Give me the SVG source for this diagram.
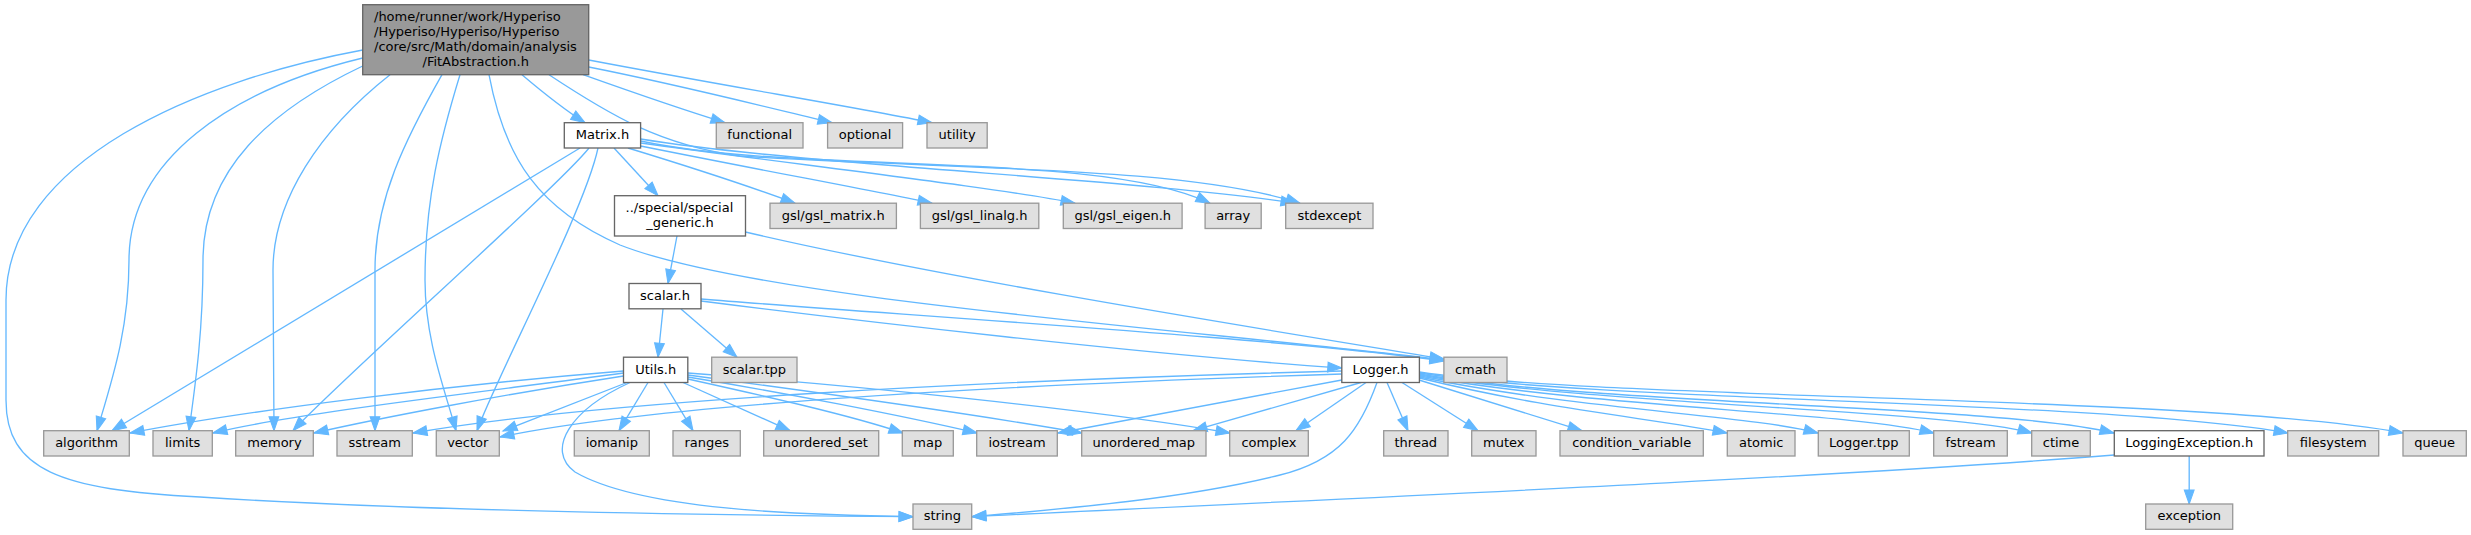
<svg xmlns="http://www.w3.org/2000/svg" width="2471" height="535" viewBox="0 0 2471 535">
<style>
.g rect{fill:#e0e0e0;stroke:#999999;stroke-width:1.33}
.w rect{fill:#ffffff;stroke:#666666;stroke-width:1.33}
.m rect{fill:#999999;stroke:#666666;stroke-width:1.33}
text{font-family:"DejaVu Sans","Liberation Sans",sans-serif;font-size:13px;fill:#000000}
.c{text-anchor:middle}
#edges path{fill:none;stroke:#63b8ff;stroke-width:1.33;marker-end:url(#ah)}
</style>
<defs>
<marker id="ah" markerUnits="userSpaceOnUse" markerWidth="14" markerHeight="10" refX="13.3" refY="4.67" orient="auto" viewBox="0 0 13.3 9.33" overflow="visible">
<path d="M0,0 L13.3,4.67 L0,9.33 z" fill="#63b8ff" stroke="#63b8ff" stroke-width="1"/>
</marker>
</defs>
<rect width="2471" height="535" fill="#ffffff"/>
<g id="edges">
<path d="M522,74.7 C540,90 562,108 585,122.7"/>
<path d="M583,74.7 C640,95 690,112 725,122.7"/>
<path d="M588.7,67 C680,85 770,108 832,122.7"/>
<path d="M588.7,60 C720,85 860,108 932,122.7"/>
<path d="M549,74.7 C610,115 660,145 740,156 C950,170 1180,165 1300,203.2"/>
<path d="M489,74.7 C505,160 540,210 620,245 C760,300 1200,330 1444,360"/>
<path d="M442,74.7 C405,140 375,200 375,270 L375,430.7"/>
<path d="M460,74.7 C440,140 425,200 425,280 C425,340 445,390 456,430.7"/>
<path d="M390,74.7 C320,130 273,200 273,270 L274,430.7"/>
<path d="M362.7,66 C270,110 203,170 203,260 C203,330 196,380 189,430.7"/>
<path d="M362.7,58 C230,90 129,160 129,260 C129,330 112,380 97,430.7"/>
<path d="M362.7,50 C200,80 6,160 6,300 L6,400 C6,470 60,490 200,497 C400,510 700,515 913,516.7"/>
<path d="M580,148 L112,430.7"/>
<path d="M589,148 C560,185 340,380 293,430.7"/>
<path d="M598,148 C585,210 495,380 477,430.7"/>
<path d="M614,148 L658,195.7"/>
<path d="M628,148 C700,170 765,192 795,203.2"/>
<path d="M640.6,146 C760,170 880,192 932,203.2"/>
<path d="M640.6,143 C800,165 1000,188 1075,203.2"/>
<path d="M640.6,141 C800,175 1100,150 1210,203.2"/>
<path d="M640.6,139 C800,165 1150,180 1295,203.2"/>
<path d="M677,236 L668,283.5"/>
<path d="M745.4,232 C950,280 1300,335 1444,359"/>
<path d="M663,309 L658,357.2"/>
<path d="M681,309 L737,357.2"/>
<path d="M701,301 C850,320 1150,355 1341.8,368"/>
<path d="M701,299 C900,315 1300,340 1444,361"/>
<path d="M623.5,371 C450,385 250,410 130,433"/>
<path d="M623.5,373 C500,390 300,412 213,433"/>
<path d="M623.5,376 C500,395 380,418 314,433"/>
<path d="M627,382.5 L503,431"/>
<path d="M630,382.5 C570,410 545,450 575,472 C640,510 800,515 913,516.7"/>
<path d="M648,382.5 L619,430.7"/>
<path d="M664,382.5 L693,430.7"/>
<path d="M683,382.5 L790,430.7"/>
<path d="M687.8,379 C760,395 850,415 903,433"/>
<path d="M687.8,377 C780,392 900,415 977,433"/>
<path d="M687.8,375 C800,390 980,415 1082,433"/>
<path d="M687.8,373 C850,385 1100,410 1230,433"/>
<path d="M1341.8,371 C1000,380 600,400 413,433"/>
<path d="M1341.8,374 C1000,385 650,405 500,437"/>
<path d="M1341.8,380 L1058,433"/>
<path d="M1361,382.5 L1193,430.7"/>
<path d="M1366,382.5 L1296,430.7"/>
<path d="M1377,382.5 C1360,430 1340,460 1280,475 C1180,500 1050,510 972,516.7"/>
<path d="M1387,382.5 L1408,430.7"/>
<path d="M1402,382.5 L1478,430.7"/>
<path d="M1419,380 L1582,430.7"/>
<path d="M1419.4,378 C1550,410 1650,418 1727,433"/>
<path d="M1419.4,377 C1580,410 1750,415 1818,433"/>
<path d="M1419.4,376 C1600,408 1850,412 1934,433"/>
<path d="M1419.4,375 C1600,405 1950,410 2032,433"/>
<path d="M1419.4,374 C1600,405 2000,405 2114,433"/>
<path d="M1419.4,373 C1600,402 2100,400 2288,433"/>
<path d="M1419.4,372 C1600,400 2200,395 2403,433"/>
<path d="M2114.3,455 C1800,480 1200,505 972,516.7"/>
<path d="M2189.2,456 L2189.2,504"/>
</g>
<g id="node_main" class="m"><rect x="362.7" y="4.7" width="226" height="70"/>
<text x="374" y="20.7">/home/runner/work/Hyperiso</text>
<text x="374" y="35.7">/Hyperiso/Hyperiso/Hyperiso</text>
<text x="374" y="50.7">/core/src/Math/domain/analysis</text>
<text class="c" x="475.7" y="65.7">/FitAbstraction.h</text></g>
<g id="node_matrix" class="w"><rect x="564.3" y="122.7" width="76.3" height="25.3"/><text class="c" x="602.5" y="139">Matrix.h</text></g>
<g id="node_functional" class="g"><rect x="716.3" y="122.7" width="86.7" height="25.3"/><text class="c" x="759.7" y="139">functional</text></g>
<g id="node_optional" class="g"><rect x="827.6" y="122.7" width="75" height="25.3"/><text class="c" x="865.1" y="139">optional</text></g>
<g id="node_utility" class="g"><rect x="927" y="122.7" width="60.2" height="25.3"/><text class="c" x="957.1" y="139">utility</text></g>
<g id="node_special" class="w"><rect x="614.5" y="195.7" width="131" height="40.3"/>
<text x="625.5" y="212">../special/special</text>
<text class="c" x="680" y="226.5">_generic.h</text></g>
<g id="node_gsl_matrix" class="g"><rect x="770" y="203.2" width="126.4" height="25.3"/><text class="c" x="833.2" y="219.5">gsl/gsl_matrix.h</text></g>
<g id="node_gsl_linalg" class="g"><rect x="920.4" y="203.2" width="118.4" height="25.3"/><text class="c" x="979.6" y="219.5">gsl/gsl_linalg.h</text></g>
<g id="node_gsl_eigen" class="g"><rect x="1063.3" y="203.2" width="118.8" height="25.3"/><text class="c" x="1122.7" y="219.5">gsl/gsl_eigen.h</text></g>
<g id="node_array" class="g"><rect x="1205.1" y="203.2" width="56.1" height="25.3"/><text class="c" x="1233.2" y="219.5">array</text></g>
<g id="node_stdexcept" class="g"><rect x="1285.7" y="203.2" width="87.3" height="25.3"/><text class="c" x="1329.4" y="219.5">stdexcept</text></g>
<g id="node_scalar_h" class="w"><rect x="629" y="283.5" width="72" height="25.3"/><text class="c" x="665" y="299.9">scalar.h</text></g>
<g id="node_utils" class="w"><rect x="623.5" y="357.2" width="64.3" height="25.3"/><text class="c" x="655.7" y="373.5">Utils.h</text></g>
<g id="node_scalar_tpp" class="g"><rect x="711.7" y="357.2" width="85.3" height="25.3"/><text class="c" x="754.4" y="373.5">scalar.tpp</text></g>
<g id="node_logger" class="w"><rect x="1341.8" y="357.2" width="77.6" height="25.3"/><text class="c" x="1380.6" y="373.5">Logger.h</text></g>
<g id="node_cmath" class="g"><rect x="1443.9" y="357.2" width="63.1" height="25.3"/><text class="c" x="1475.5" y="373.5">cmath</text></g>
<g id="node_algorithm" class="g"><rect x="43.7" y="430.7" width="85.6" height="25.3"/><text class="c" x="86.5" y="447">algorithm</text></g>
<g id="node_limits" class="g"><rect x="153" y="430.7" width="59.3" height="25.3"/><text class="c" x="182.7" y="447">limits</text></g>
<g id="node_memory" class="g"><rect x="235.7" y="430.7" width="77.6" height="25.3"/><text class="c" x="274.5" y="447">memory</text></g>
<g id="node_sstream" class="g"><rect x="337" y="430.7" width="75.3" height="25.3"/><text class="c" x="374.7" y="447">sstream</text></g>
<g id="node_vector" class="g"><rect x="436.3" y="430.7" width="63" height="25.3"/><text class="c" x="467.8" y="447">vector</text></g>
<g id="node_iomanip" class="g"><rect x="574.3" y="430.7" width="75" height="25.3"/><text class="c" x="611.8" y="447">iomanip</text></g>
<g id="node_ranges" class="g"><rect x="673" y="430.7" width="67.3" height="25.3"/><text class="c" x="706.7" y="447">ranges</text></g>
<g id="node_unordered_set" class="g"><rect x="763.7" y="430.7" width="115" height="25.3"/><text class="c" x="821.2" y="447">unordered_set</text></g>
<g id="node_map" class="g"><rect x="902.3" y="430.7" width="51" height="25.3"/><text class="c" x="927.8" y="447">map</text></g>
<g id="node_iostream" class="g"><rect x="976.7" y="430.7" width="80.6" height="25.3"/><text class="c" x="1017" y="447">iostream</text></g>
<g id="node_unordered_map" class="g"><rect x="1081.7" y="430.7" width="124.3" height="25.3"/><text class="c" x="1143.8" y="447">unordered_map</text></g>
<g id="node_complex" class="g"><rect x="1229.7" y="430.7" width="78.6" height="25.3"/><text class="c" x="1269" y="447">complex</text></g>
<g id="node_thread" class="g"><rect x="1383.7" y="430.7" width="64.3" height="25.3"/><text class="c" x="1415.8" y="447">thread</text></g>
<g id="node_mutex" class="g"><rect x="1471.7" y="430.7" width="64.3" height="25.3"/><text class="c" x="1503.8" y="447">mutex</text></g>
<g id="node_condvar" class="g"><rect x="1560" y="430.7" width="143.3" height="25.3"/><text class="c" x="1631.7" y="447">condition_variable</text></g>
<g id="node_atomic" class="g"><rect x="1727.3" y="430.7" width="67.7" height="25.3"/><text class="c" x="1761.2" y="447">atomic</text></g>
<g id="node_logger_tpp" class="g"><rect x="1818.3" y="430.7" width="91" height="25.3"/><text class="c" x="1863.8" y="447">Logger.tpp</text></g>
<g id="node_fstream" class="g"><rect x="1933.7" y="430.7" width="73.6" height="25.3"/><text class="c" x="1970.5" y="447">fstream</text></g>
<g id="node_ctime" class="g"><rect x="2031.7" y="430.7" width="58.6" height="25.3"/><text class="c" x="2061" y="447">ctime</text></g>
<g id="node_logging_exc" class="w"><rect x="2114.3" y="430.7" width="149.7" height="25.3"/><text class="c" x="2189.2" y="447">LoggingException.h</text></g>
<g id="node_filesystem" class="g"><rect x="2287.7" y="430.7" width="91" height="25.3"/><text class="c" x="2333.2" y="447">filesystem</text></g>
<g id="node_queue" class="g"><rect x="2403" y="430.7" width="63.3" height="25.3"/><text class="c" x="2434.7" y="447">queue</text></g>
<g id="node_string" class="g"><rect x="913" y="504" width="58.7" height="25.3"/><text class="c" x="942.4" y="520.4">string</text></g>
<g id="node_exception" class="g"><rect x="2145.7" y="504" width="87" height="25.3"/><text class="c" x="2189.2" y="520.4">exception</text></g>
</svg>
